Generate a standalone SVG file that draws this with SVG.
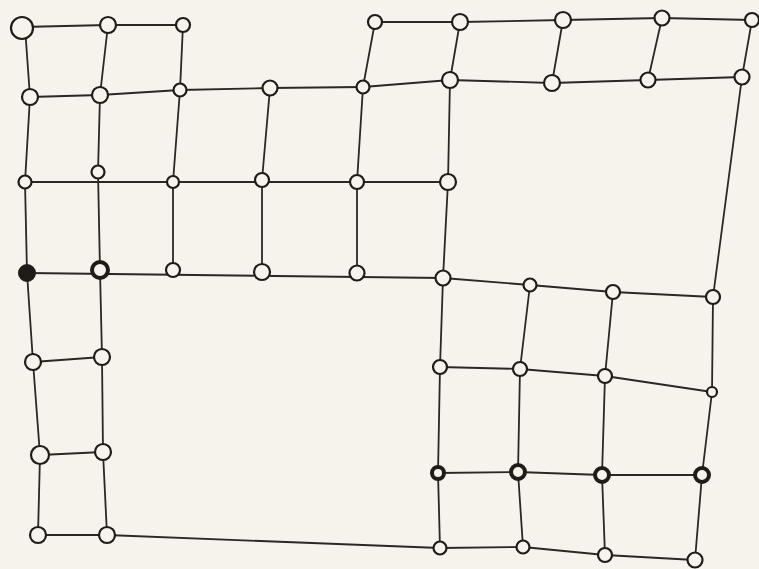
<svg xmlns="http://www.w3.org/2000/svg" width="759" height="569" viewBox="0 0 759 569">
<style>
.bg{fill:#f6f3ec}
.e line{stroke:#2a2724;stroke-width:1.8;stroke-linecap:round}
.n circle{fill:#f6f3ec;stroke:#1e1b19;stroke-width:2.2}
.n .d{stroke-width:4}
.n .f{fill:#1e1b19}
</style>
<rect class="bg" x="0" y="0" width="759" height="569"/>
<g id="connectors" class="e">
<line x1="22" y1="27" x2="108" y2="25"/>
<line x1="108" y1="25" x2="183" y2="25"/>
<line x1="375" y1="22" x2="460" y2="22"/>
<line x1="460" y1="22" x2="563" y2="20"/>
<line x1="563" y1="20" x2="662" y2="18"/>
<line x1="662" y1="18" x2="752" y2="20"/>
<line x1="25" y1="27" x2="30" y2="97"/>
<line x1="108" y1="25" x2="100" y2="95"/>
<line x1="183" y1="25" x2="180" y2="90"/>
<line x1="375" y1="22" x2="363" y2="87"/>
<line x1="460" y1="22" x2="450" y2="80"/>
<line x1="563" y1="20" x2="552" y2="83"/>
<line x1="662" y1="18" x2="648" y2="80"/>
<line x1="752" y1="20" x2="742" y2="77"/>
<line x1="30" y1="97" x2="100" y2="95"/>
<line x1="100" y1="95" x2="180" y2="90"/>
<line x1="180" y1="90" x2="270" y2="88"/>
<line x1="270" y1="88" x2="363" y2="87"/>
<line x1="363" y1="87" x2="450" y2="80"/>
<line x1="450" y1="80" x2="552" y2="83"/>
<line x1="552" y1="83" x2="648" y2="80"/>
<line x1="648" y1="80" x2="742" y2="77"/>
<line x1="30" y1="97" x2="25" y2="182"/>
<line x1="100" y1="95" x2="98" y2="172"/>
<line x1="180" y1="90" x2="173" y2="182"/>
<line x1="270" y1="88" x2="262" y2="180"/>
<line x1="363" y1="87" x2="357" y2="182"/>
<line x1="450" y1="80" x2="448" y2="182"/>
<line x1="742" y1="77" x2="713" y2="297"/>
<line x1="25" y1="182" x2="448" y2="182"/>
<line x1="25" y1="182" x2="27" y2="273"/>
<line x1="98" y1="172" x2="100" y2="270"/>
<line x1="173" y1="182" x2="173" y2="270"/>
<line x1="262" y1="180" x2="262" y2="272"/>
<line x1="357" y1="182" x2="357" y2="273"/>
<line x1="448" y1="182" x2="443" y2="278"/>
<line x1="27" y1="273" x2="443" y2="278"/>
<line x1="443" y1="278" x2="530" y2="285"/>
<line x1="530" y1="285" x2="613" y2="292"/>
<line x1="613" y1="292" x2="713" y2="297"/>
<line x1="27" y1="273" x2="33" y2="362"/>
<line x1="100" y1="270" x2="102" y2="357"/>
<line x1="443" y1="278" x2="440" y2="367"/>
<line x1="530" y1="285" x2="520" y2="369"/>
<line x1="613" y1="292" x2="605" y2="376"/>
<line x1="713" y1="297" x2="712" y2="392"/>
<line x1="33" y1="362" x2="102" y2="357"/>
<line x1="440" y1="367" x2="520" y2="369"/>
<line x1="520" y1="369" x2="605" y2="376"/>
<line x1="605" y1="376" x2="712" y2="392"/>
<line x1="33" y1="362" x2="40" y2="455"/>
<line x1="102" y1="357" x2="103" y2="452"/>
<line x1="440" y1="367" x2="438" y2="473"/>
<line x1="520" y1="369" x2="518" y2="472"/>
<line x1="605" y1="376" x2="602" y2="475"/>
<line x1="712" y1="392" x2="702" y2="475"/>
<line x1="40" y1="455" x2="103" y2="452"/>
<line x1="438" y1="473" x2="518" y2="472"/>
<line x1="518" y1="472" x2="602" y2="475"/>
<line x1="602" y1="475" x2="702" y2="475"/>
<line x1="40" y1="455" x2="38" y2="535"/>
<line x1="103" y1="452" x2="107" y2="535"/>
<line x1="438" y1="473" x2="440" y2="548"/>
<line x1="518" y1="472" x2="523" y2="547"/>
<line x1="602" y1="475" x2="605" y2="555"/>
<line x1="702" y1="475" x2="695" y2="560"/>
<line x1="38" y1="535" x2="107" y2="535"/>
<line x1="107" y1="535" x2="440" y2="548"/>
<line x1="440" y1="548" x2="523" y2="547"/>
<line x1="523" y1="547" x2="605" y2="555"/>
<line x1="605" y1="555" x2="695" y2="560"/>
</g>
<g class="n">
<g id="n1-1"><circle cx="22" cy="28" r="11"/></g>
<g id="n1-2"><circle cx="108" cy="25" r="8"/></g>
<g id="n1-3"><circle cx="183" cy="25" r="7"/></g>
<g id="n1-4"><circle cx="375" cy="22" r="7"/></g>
<g id="n1-5"><circle cx="460" cy="22" r="8"/></g>
<g id="n1-6"><circle cx="563" cy="20" r="8"/></g>
<g id="n1-7"><circle cx="662" cy="18" r="7.5"/></g>
<g id="n1-8"><circle cx="752" cy="20" r="7"/></g>
<g id="n2-1"><circle cx="30" cy="97" r="8"/></g>
<g id="n2-2"><circle cx="100" cy="95" r="8"/></g>
<g id="n2-3"><circle cx="180" cy="90" r="6.5"/></g>
<g id="n2-4"><circle cx="270" cy="88" r="7.5"/></g>
<g id="n2-5"><circle cx="363" cy="87" r="6.5"/></g>
<g id="n2-6"><circle cx="450" cy="80" r="8"/></g>
<g id="n2-7"><circle cx="552" cy="83" r="8"/></g>
<g id="n2-8"><circle cx="648" cy="80" r="7.5"/></g>
<g id="n2-9"><circle cx="742" cy="77" r="7.5"/></g>
<g id="n3-1"><circle cx="25" cy="182" r="6.5"/></g>
<g id="n3-2"><circle cx="98" cy="172" r="6.5"/></g>
<g id="n3-3"><circle cx="173" cy="182" r="6"/></g>
<g id="n3-4"><circle cx="262" cy="180" r="7"/></g>
<g id="n3-5"><circle cx="357" cy="182" r="7"/></g>
<g id="n3-6"><circle cx="448" cy="182" r="8"/></g>
<g id="n4-1"><circle class="d f" cx="27" cy="273" r="7"/></g>
<g id="n4-2"><circle class="d" cx="100" cy="270" r="8"/></g>
<g id="n4-3"><circle cx="173" cy="270" r="7"/></g>
<g id="n4-4"><circle cx="262" cy="272" r="8"/></g>
<g id="n4-5"><circle cx="357" cy="273" r="7.5"/></g>
<g id="n4-6"><circle cx="443" cy="278" r="7.5"/></g>
<g id="n4-7"><circle cx="530" cy="285" r="6.5"/></g>
<g id="n4-8"><circle cx="613" cy="292" r="7"/></g>
<g id="n4-9"><circle cx="713" cy="297" r="7"/></g>
<g id="n5-1"><circle cx="33" cy="362" r="8"/></g>
<g id="n5-2"><circle cx="102" cy="357" r="8"/></g>
<g id="n5-3"><circle cx="440" cy="367" r="7"/></g>
<g id="n5-4"><circle cx="520" cy="369" r="7"/></g>
<g id="n5-5"><circle cx="605" cy="376" r="7"/></g>
<g id="n5-6"><circle cx="712" cy="392" r="5"/></g>
<g id="n6-1"><circle cx="40" cy="455" r="9"/></g>
<g id="n6-2"><circle cx="103" cy="452" r="8"/></g>
<g id="n6-3"><circle class="d" cx="438" cy="473" r="6"/></g>
<g id="n6-4"><circle class="d" cx="518" cy="472" r="7"/></g>
<g id="n6-5"><circle class="d" cx="602" cy="475" r="7"/></g>
<g id="n6-6"><circle class="d" cx="702" cy="475" r="7"/></g>
<g id="n7-1"><circle cx="38" cy="535" r="8"/></g>
<g id="n7-2"><circle cx="107" cy="535" r="8"/></g>
<g id="n7-3"><circle cx="440" cy="548" r="6.5"/></g>
<g id="n7-4"><circle cx="523" cy="547" r="6.5"/></g>
<g id="n7-5"><circle cx="605" cy="555" r="7"/></g>
<g id="n7-6"><circle cx="695" cy="560" r="7.5"/></g>
</g>
</svg>
